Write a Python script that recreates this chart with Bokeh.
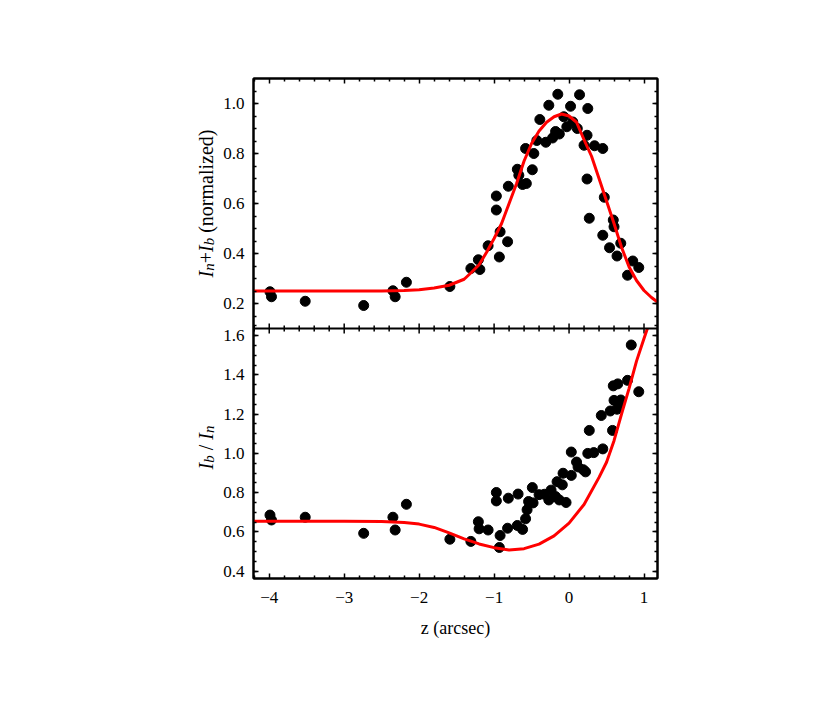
from bokeh.plotting import figure
from bokeh.layouts import row
from bokeh.models import (Range1d, LinearAxis, FixedTicker,
                          CustomJSTickFormatter, Span, ColumnDataSource)
from bokeh.core.properties import value
from bokeh.embed import file_html
from bokeh.resources import INLINE

# ---------------- data ----------------
top_z = [-3.99, -3.97, -3.52, -2.74, -2.35, -2.32, -2.17, -1.59, -1.31, -1.21,
         -1.19, -1.08, -0.97, -0.97, -0.93, -0.92, -0.82, -0.81, -0.69, -0.67,
         -0.62, -0.57, -0.58, -0.49, -0.47, -0.43, -0.39, -0.31, -0.27, -0.22,
         -0.18, -0.15, -0.13, -0.07, -0.03, 0.02, 0.05, 0.11, 0.14, 0.20,
         0.24, 0.25, 0.34, 0.45, 0.24, 0.27, 0.47, 0.45, 0.59, 0.60,
         0.54, 0.64, 0.69, 0.78, 0.85, 0.93]
top_val = [0.247, 0.227, 0.209, 0.192, 0.251, 0.227, 0.285, 0.268, 0.340, 0.375,
           0.336, 0.431, 0.630, 0.574, 0.386, 0.487, 0.447, 0.669, 0.737, 0.713,
           0.676, 0.680, 0.820, 0.735, 0.800, 0.852, 0.936, 0.845, 0.993, 0.862,
           0.888, 1.037, 0.878, 0.947, 0.907, 0.989, 0.926, 0.900, 1.035, 0.833,
           0.873, 0.980, 0.831, 0.820, 0.698, 0.541, 0.625, 0.473, 0.534, 0.507,
           0.423, 0.390, 0.441, 0.313, 0.370, 0.344]

top_fit_z = [-4.21, -3.0, -2.5, -2.2, -2.0, -1.8, -1.6, -1.4, -1.3, -1.2, -1.1, -1.0,
             -0.9, -0.8, -0.7, -0.6, -0.5, -0.4, -0.3, -0.2, -0.1, 0.0, 0.1, 0.2,
             0.3, 0.4, 0.5, 0.6, 0.7, 0.8, 0.9, 1.0, 1.1, 1.18]
top_fit_val = [0.250, 0.250, 0.250, 0.252, 0.255, 0.262, 0.273, 0.297, 0.325, 0.355, 0.405, 0.460,
               0.520, 0.600, 0.680, 0.770, 0.840, 0.890, 0.925, 0.947, 0.958, 0.950, 0.925, 0.855,
               0.789, 0.700, 0.610, 0.520, 0.425, 0.347, 0.292, 0.252, 0.224, 0.206]

bot_z = [-3.99, -3.97, -3.52, -2.74, -2.35, -2.32, -2.17, -1.59, -1.31, -1.21,
         -1.20, -1.08, -0.97, -0.97, -0.93, -0.92, -0.82, -0.81, -0.68, -0.69,
         -0.62, -0.58, -0.56, -0.54, -0.49, -0.48, -0.40, -0.33, -0.27, -0.24,
         -0.18, -0.16, -0.13, -0.09, -0.08, -0.04, 0.03, 0.03, 0.10, 0.12,
         0.19, 0.22, 0.25, 0.27, 0.33, 0.45, 0.43, 0.55, 0.58, 0.60,
         0.59, 0.65, 0.67, 0.69, 0.78, 0.83, 0.93, 0.64]
bot_val = [0.686, 0.661, 0.675, 0.593, 0.675, 0.610, 0.741, 0.563, 0.552, 0.652,
           0.616, 0.610, 0.801, 0.758, 0.521, 0.582, 0.619, 0.772, 0.793, 0.633,
           0.613, 0.667, 0.713, 0.755, 0.826, 0.748, 0.790, 0.792, 0.763, 0.813,
           0.780, 0.856, 0.763, 0.840, 0.899, 0.750, 0.888, 1.007, 0.956, 0.931,
           0.917, 0.906, 1.000, 1.117, 1.004, 1.023, 1.193, 1.216, 1.117, 1.270,
           1.344, 1.354, 1.255, 1.272, 1.372, 1.552, 1.314, 1.225]

bot_fit_z = [-4.21, -3.0, -2.5, -2.2, -2.0, -1.8, -1.6, -1.4, -1.2, -1.0, -0.8, -0.6,
             -0.4, -0.2, 0.0, 0.2, 0.4, 0.5, 0.6, 0.7, 0.8, 0.9, 1.0, 1.045]
bot_fit_val = [0.655, 0.655, 0.653, 0.648, 0.640, 0.623, 0.595, 0.565, 0.539, 0.520, 0.508, 0.515,
               0.538, 0.580, 0.645, 0.740, 0.878, 0.955, 1.065, 1.200, 1.330, 1.470, 1.585, 1.636]

x_major = [-4, -3, -2, -1, 0, 1]
x_minor = [-4.2, -3.8, -3.6, -3.4, -3.2, -2.8, -2.6, -2.4, -2.2, -1.8, -1.6, -1.4, -1.2,
           -0.8, -0.6, -0.4, -0.2, 0.2, 0.4, 0.6, 0.8, 1.2]
top_major = [0.2, 0.4, 0.6, 0.8, 1.0]
bot_major = [0.4, 0.6, 0.8, 1.0, 1.2, 1.4, 1.6]

# panel ranges
X_LO, X_HI = -4.21, 1.18
T_LO, T_HI = 0.1, 1.1        # top panel  (I_n + I_b)
B_LO, B_HI = 0.363, 1.636    # bottom panel (I_b / I_n)

# ---------------- styling ----------------
SERIF = "Liberation Serif"
TICK_FS = "17px"
RED = "#ff0000"
FRAME_H = 500


def to_b(t):
    # position of a top-panel value on the shared (bottom) y scale
    return B_HI + (t - T_LO) * (B_HI - B_LO) / (T_HI - T_LO)


y_major = bot_major + [to_b(t) for t in top_major]
y_minor = ([round(B_LO + 0.037 + 0.05 * i, 3) for i in range(0, 26)] +
           [to_b(round(0.15 + 0.05 * i, 3)) for i in range(0, 19)])

y_fmt = CustomJSTickFormatter(args=dict(bh=B_HI, bl=B_LO, th=T_HI, tl=T_LO), code="""
    let v = tick;
    if (tick > bh + 1e-6) { v = tl + (tick - bh) * (th - tl) / (bh - bl); }
    return v.toFixed(1);
""")
x_fmt = CustomJSTickFormatter(code="""
    return tick < 0 ? "\\u2212" + Math.abs(tick).toFixed(0) : tick.toFixed(0);
""")


def style_axis(ax, show_labels):
    ax.axis_line_color = "black"
    ax.axis_line_width = 2
    ax.major_tick_in = 5
    ax.major_tick_out = 0
    ax.minor_tick_in = 3
    ax.minor_tick_out = 0
    ax.major_tick_line_width = 1.5
    ax.minor_tick_line_width = 1.5
    ax.major_tick_line_color = "black"
    ax.minor_tick_line_color = "black"
    if show_labels:
        ax.major_label_text_font = SERIF
        ax.major_label_text_font_size = TICK_FS
        ax.major_label_text_color = "black"
        ax.major_label_standoff = 9
    else:
        ax.major_label_text_font_size = "0px"
        ax.major_label_text_color = None
        ax.major_label_text_alpha = 0
        ax.major_label_standoff = 0
    return ax


def y_axis(show):
    ax = LinearAxis(ticker=FixedTicker(ticks=y_major, minor_ticks=y_minor), formatter=y_fmt)
    return style_axis(ax, show)


def x_axis(show):
    ax = LinearAxis(ticker=FixedTicker(ticks=x_major, minor_ticks=x_minor), formatter=x_fmt)
    return style_axis(ax, show)


# ---------------- main figure (both panels share one frame) ----------------
p = figure(frame_width=404, frame_height=FRAME_H,
           x_range=Range1d(X_LO, X_HI),
           y_range=Range1d(B_LO, B_LO + 2 * (B_HI - B_LO)),
           output_backend="svg", toolbar_location=None,
           x_axis_location=None, y_axis_location=None,
           min_border_left=33, min_border_right=51, min_border_top=78, min_border_bottom=100)
p.extra_y_ranges = {"top": Range1d(T_LO - (T_HI - T_LO), T_HI)}
p.grid.visible = False
p.outline_line_color = "black"
p.outline_line_width = 2
p.background_fill_color = "white"
p.border_fill_color = "white"

yl = y_axis(True)
yl.major_label_standoff = 9
p.add_layout(yl, "left")
p.add_layout(y_axis(False), "right")
p.add_layout(x_axis(False), "above")
xb = x_axis(True)
xb.major_label_standoff = 13
xb.axis_label = "z (arcsec)"
xb.axis_label_text_font = SERIF
xb.axis_label_text_font_size = "18px"
xb.axis_label_text_font_style = "normal"
xb.axis_label_text_color = "black"
xb.axis_label_standoff = 12
p.add_layout(xb, "below")

# divider between the two panels, with ticks on both sides of it
p.add_layout(Span(location=B_HI, dimension="width", line_color="black", line_width=2))
p.scatter(x_major, [B_HI] * len(x_major), marker="dash", angle=90, angle_units="deg",
          size=10, line_color="black", line_width=1.5)
p.scatter(x_minor, [B_HI] * len(x_minor), marker="dash", angle=90, angle_units="deg",
          size=6, line_color="black", line_width=1.5)

# top panel data
p.scatter(top_z, top_val, size=10, color="black", y_range_name="top")
p.line(top_fit_z, top_fit_val, line_color=RED, line_width=3, y_range_name="top")

# bottom panel data
p.scatter(bot_z, bot_val, size=10, color="black")
p.line(bot_fit_z, bot_fit_val, line_color=RED, line_width=3)

# ---------------- y labels (rich text) in a side figure ----------------
MAIN = 20
SUB = 15
EM = {"I": 0.333, "n": 0.5, "b": 0.5, "+": 0.564, "/": 0.278, "(normalized)": 5.165, "gap": 0.25}

LAB_LEFT = 150
LAB_W = 70   # side frame spans page x 150..220
lab = figure(frame_width=LAB_W, frame_height=FRAME_H, x_range=Range1d(0, LAB_W),
             y_range=Range1d(B_LO, B_LO + 2 * (B_HI - B_LO)),
             output_backend="svg", toolbar_location=None,
             x_axis_location=None, y_axis_location=None,
             min_border_left=LAB_LEFT, min_border_right=0, min_border_top=78, min_border_bottom=100)
lab.extra_y_ranges = {"top": Range1d(T_LO - (T_HI - T_LO), T_HI)}
lab.grid.visible = False
lab.outline_line_color = None
lab.background_fill_color = "white"
lab.border_fill_color = "white"


def add_ylabel(fig, pieces, center, px_per_unit, base_x, range_name):
    xs, ys, texts, sizes, styles = [], [], [], [], []
    widths = [EM[t] * (SUB if sub else MAIN) for t, _, sub in pieces]
    pos = center - (sum(widths) / 2.0) / px_per_unit
    for (t, italic, sub), w in zip(pieces, widths):
        if t != "gap":
            xs.append(base_x + (3.5 if sub else 0))
            ys.append(pos)
            texts.append(t)
            sizes.append(f"{SUB if sub else MAIN}px")
            styles.append("italic" if italic else "normal")
        pos += w / px_per_unit
    src = ColumnDataSource(dict(x=xs, y=ys, text=texts, size=sizes, style=styles))
    kw = {} if range_name is None else {"y_range_name": range_name}
    fig.text(x="x", y="y", text="text", source=src, angle=90, angle_units="deg",
             text_font=value(SERIF), text_font_size="size", text_font_style="style",
             text_color="black", text_align="left", text_baseline="alphabetic", **kw)


BASE_X = 205 - LAB_LEFT   # baseline of the rotated labels at page x ~205
add_ylabel(lab, [("I", True, False), ("n", True, True), ("+", False, False),
                 ("I", True, False), ("b", True, True), ("gap", False, False),
                 ("(normalized)", False, False)],
           0.6, FRAME_H / (2 * (T_HI - T_LO)), BASE_X, "top")
add_ylabel(lab, [("I", True, False), ("b", True, True), ("gap", False, False),
                 ("/", False, False), ("gap", False, False),
                 ("I", True, False), ("n", True, True)],
           1.03, FRAME_H / (2 * (B_HI - B_LO)), BASE_X, None)

layout = row(lab, p)
open("out.html", "w").write(file_html(layout, INLINE))
